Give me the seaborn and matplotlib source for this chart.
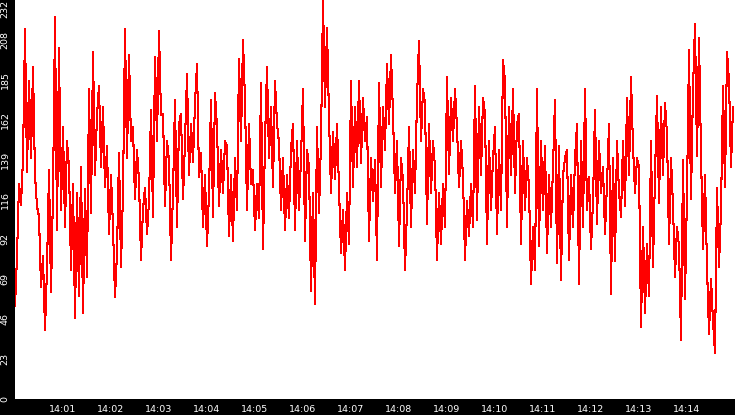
import numpy as np
import pandas as pd
import seaborn as sns
import matplotlib
matplotlib.use('Agg')
import matplotlib.pyplot as plt
import matplotlib.dates as mdates

# Values, one sample every 2.5 s from 14:00:00
q1 = [54, 83, 125, 113, 140, 215, 132, 185, 140, 193, 130, 112, 106, 65,
      83, 40, 76, 133, 62, 120, 222, 98, 204, 110, 158, 100, 150, 135, 75,
      125, 47, 120, 60, 135, 50, 122, 71, 180, 108, 202, 130, 165, 182, 135,
      170, 123, 147, 96, 130, 100, 59, 85, 143, 77, 120, 215, 140, 200, 150,
      158, 116, 145, 127, 81, 110, 123, 96, 115, 168, 106, 199, 150, 214, 165,
      166, 112, 150, 139, 81, 120, 174, 100, 160, 166, 116, 150, 189, 130,
      160, 138]
q2 = [172, 195, 129, 143, 100, 130, 89, 120, 174, 106, 178, 158, 112, 145,
      120, 150, 147, 95, 130, 92, 140, 110, 198, 150, 209, 174, 110, 160, 125,
      133, 98, 125, 105, 184, 87, 150, 193, 140, 170, 123, 185, 160, 149, 110,
      140, 98, 130, 105, 145, 160, 98, 150, 110, 140, 180, 92, 145, 135, 63,
      120, 55, 158, 108, 150, 232, 170, 216, 164, 120, 155, 128, 160, 123, 85,
      110, 75, 120, 90, 185, 123, 170, 135, 185, 137, 175, 150, 164, 92, 140,
      115]
q3 = [139, 81, 184, 123, 170, 145, 195, 160, 200, 166, 120, 150, 89, 140,
      127, 75, 110, 158, 100, 145, 120, 175, 208, 150, 180, 172, 102, 160, 120,
      150, 135, 81, 120, 90, 125, 100, 187, 131, 175, 150, 180, 158, 123, 150,
      129, 81, 115, 95, 125, 100, 182, 104, 170, 130, 175, 166, 90, 150, 110,
      140, 158, 96, 145, 110, 197, 185, 100, 170, 130, 180, 120, 160, 166, 90,
      150, 110, 140, 123, 67, 100, 75, 180, 89, 150, 110, 147, 85, 130, 100,
      135]
q4 = [174, 79, 147, 69, 130, 140, 145, 81, 130, 100, 140, 160, 67, 150, 100,
      180, 110, 129, 87, 115, 168, 102, 150, 120, 135, 96, 125, 160, 61, 140,
      80, 150, 120, 106, 150, 112, 175, 130, 187, 147, 120, 140, 135, 42, 100,
      50, 90, 60, 150, 77, 130, 176, 114, 170, 130, 172, 154, 90, 140, 112, 71,
      100, 89, 34, 139, 58, 120, 203, 116, 180, 218, 141, 210, 143, 87, 130,
      77, 38, 70, 45, 27, 123, 77, 110, 182, 123, 202, 185, 135, 170]
values = q1 + q2 + q3 + q4
times = pd.date_range('2024-01-01 14:00:00', periods=len(values), freq='2500ms')

y_ticks = np.linspace(0, 232, 11)
y_labels = [str(int(v)) for v in y_ticks]
x_ticks = pd.date_range('2024-01-01 14:01', '2024-01-01 14:14', freq='min')

sns.set_style('white')
plt.rcParams['font.family'] = ['DejaVu Sans']

fig = plt.figure(figsize=(7.35, 4.15), dpi=100, facecolor='black')
ax = fig.add_axes([15 / 735, 16 / 415, 720 / 735, 399 / 415])
ax.set_facecolor('white')

sns.lineplot(x=times, y=values, color='#ff0000', linewidth=0.75,
             antialiased=False, ax=ax)

ax.set_xlim(pd.Timestamp('2024-01-01 14:00:00'), pd.Timestamp('2024-01-01 14:15:00'))
ax.set_ylim(0, 232)
ax.set_xticks(x_ticks)
ax.xaxis.set_major_formatter(mdates.DateFormatter('%H:%M'))
ax.set_yticks(y_ticks)
ax.set_yticklabels(y_labels, rotation=90, va='center')
# top label sits below its tick so it stays inside the figure
ax.get_yticklabels()[-1].set_va('top')
ax.tick_params(axis='both', colors='white', labelcolor='white', labelsize=6.8,
               direction='out', length=3.5, width=0.8, pad=0.5)
ax.tick_params(axis='y', pad=0.3)
for s in ax.spines.values():
    s.set_visible(False)
ax.set_xlabel('')
ax.set_ylabel('')

fig.savefig('out.png', dpi=100, facecolor='black')
